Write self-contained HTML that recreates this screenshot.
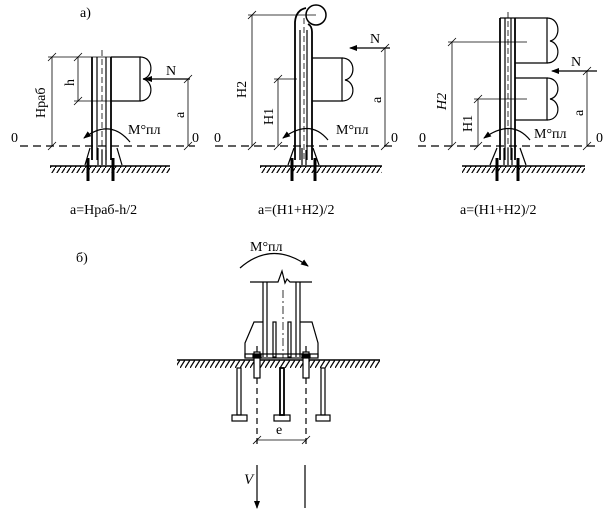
<!DOCTYPE html>
<html><head><meta charset="utf-8">
<style>
html,body{margin:0;padding:0;background:#fff;}
svg{display:block;}
text{font-family:"Liberation Serif",serif;fill:#000;}
</style></head>
<body>
<svg width="609" height="519" viewBox="0 0 609 519" xmlns="http://www.w3.org/2000/svg">
<defs>
<pattern id="h" width="5" height="8" patternUnits="userSpaceOnUse">
<line x1="0" y1="8" x2="5" y2="0" stroke="#000" stroke-width="1.2"/>
</pattern>
<marker id="ar" markerWidth="8" markerHeight="6" refX="7" refY="3" orient="auto" markerUnits="userSpaceOnUse">
<path d="M0,0 L8,3 L0,6 z" fill="#000"/>
</marker>
</defs>
<g stroke="#000" stroke-width="1.2" fill="none">

<!-- ============ Panel 1 ============ -->
<line x1="20" y1="146" x2="195" y2="146" stroke-dasharray="8,5"/>
<line x1="92" y1="57" x2="92" y2="160" stroke-width="1.8"/>
<line x1="97" y1="57" x2="97" y2="160"/>
<line x1="106" y1="57" x2="106" y2="160"/>
<line x1="111" y1="57" x2="111" y2="160" stroke-width="1.8"/>
<line x1="102" y1="50" x2="102" y2="160" stroke-dasharray="6,3" stroke-width="0.8"/>
<path d="M111,57 H140 V101 H111"/>
<path d="M140,57 C154,57 154,77 143,79 C154,81 154,101 140,101"/>
<line x1="48" y1="57" x2="140" y2="57" stroke-width="0.8"/>
<line x1="52" y1="57" x2="52" y2="146" stroke-width="0.8"/>
<line x1="48" y1="61" x2="56" y2="53" stroke-width="0.8"/>
<line x1="48" y1="150" x2="56" y2="142" stroke-width="0.8"/>
<line x1="78" y1="57" x2="78" y2="101" stroke-width="0.8"/>
<line x1="74" y1="61" x2="82" y2="53" stroke-width="0.8"/>
<line x1="74" y1="105" x2="82" y2="97" stroke-width="0.8"/>
<line x1="74" y1="101" x2="111" y2="101" stroke-width="0.8"/>
<line x1="190" y1="79" x2="145" y2="79" marker-end="url(#ar)"/>
<line x1="188" y1="79" x2="188" y2="146" stroke-width="0.8"/>
<line x1="184" y1="83" x2="192" y2="75" stroke-width="0.8"/>
<line x1="184" y1="150" x2="192" y2="142" stroke-width="0.8"/>
<path d="M130,142 Q110,118 84,138" marker-end="url(#ar)"/>
<path d="M90,148 L85,165 M117,148 L122,165"/>
<line x1="98" y1="148" x2="98" y2="165"/><line x1="102" y1="150" x2="102" y2="165"/><line x1="106" y1="150" x2="106" y2="165"/>
<line x1="50" y1="166" x2="170" y2="166" stroke-width="1.5"/>
<rect x="50" y="166" width="120" height="7" fill="url(#h)" stroke="none"/>
<line x1="88" y1="158" x2="88" y2="181" stroke-width="3"/>
<line x1="113" y1="158" x2="113" y2="181" stroke-width="3"/>

<!-- ============ Panel 2 ============ -->
<line x1="215" y1="146" x2="395" y2="146" stroke-dasharray="8,5"/>
<path d="M295,160 V22 Q296,10 306,8" stroke-width="1.8"/>
<path d="M312,160 V32 Q312,26 308,24" stroke-width="1.8"/>
<line x1="300" y1="30" x2="300" y2="160"/>
<line x1="307" y1="30" x2="307" y2="160"/>
<line x1="304" y1="18" x2="304" y2="160" stroke-dasharray="6,3" stroke-width="0.8"/>
<circle cx="316" cy="15" r="10" stroke-width="1.5"/>
<path d="M312,58 H342 V101 H312"/>
<path d="M342,58 C356,58 356,78 345,80 C356,82 356,101 342,101"/>
<line x1="248" y1="15" x2="316" y2="15" stroke-width="0.8"/>
<line x1="252" y1="15" x2="252" y2="146" stroke-width="0.8"/>
<line x1="248" y1="19" x2="256" y2="11" stroke-width="0.8"/>
<line x1="248" y1="150" x2="256" y2="142" stroke-width="0.8"/>
<line x1="274" y1="79" x2="297" y2="79" stroke-width="0.8"/>
<line x1="278" y1="79" x2="278" y2="146" stroke-width="0.8"/>
<line x1="274" y1="83" x2="282" y2="75" stroke-width="0.8"/>
<line x1="274" y1="150" x2="282" y2="142" stroke-width="0.8"/>
<line x1="390" y1="48" x2="350" y2="48" marker-end="url(#ar)"/>
<line x1="385" y1="48" x2="385" y2="146" stroke-width="0.8"/>
<line x1="381" y1="52" x2="389" y2="44" stroke-width="0.8"/>
<line x1="381" y1="150" x2="389" y2="142" stroke-width="0.8"/>
<path d="M328,140 Q310,118 283,138" marker-end="url(#ar)"/>
<path d="M294,148 L288,165 M313,148 L319,165"/>
<line x1="302" y1="148" x2="302" y2="165"/><line x1="306" y1="150" x2="306" y2="165"/>
<line x1="260" y1="166" x2="382" y2="166" stroke-width="1.5"/>
<rect x="260" y="166" width="122" height="7" fill="url(#h)" stroke="none"/>
<line x1="292" y1="158" x2="292" y2="181" stroke-width="3"/>
<line x1="315" y1="158" x2="315" y2="181" stroke-width="3"/>

<!-- ============ Panel 3 ============ -->
<line x1="418" y1="146" x2="600" y2="146" stroke-dasharray="8,5"/>
<line x1="500" y1="18" x2="500" y2="160" stroke-width="1.8"/>
<line x1="505" y1="18" x2="505" y2="160"/>
<line x1="511" y1="18" x2="511" y2="160"/>
<line x1="515" y1="18" x2="515" y2="160" stroke-width="1.8"/>
<line x1="508" y1="12" x2="508" y2="160" stroke-dasharray="6,3" stroke-width="0.8"/>
<line x1="500" y1="18" x2="515" y2="18"/>
<path d="M515,18 H547 V63 H515"/>
<path d="M547,18 C561,18 561,39 550,41 C561,43 561,63 547,63"/>
<path d="M515,78 H547 V120 H515"/>
<path d="M547,78 C561,78 561,97 550,99 C561,101 561,120 547,120"/>
<line x1="448" y1="42" x2="527" y2="42" stroke-width="0.8"/>
<line x1="452" y1="42" x2="452" y2="146" stroke-width="0.8"/>
<line x1="448" y1="46" x2="456" y2="38" stroke-width="0.8"/>
<line x1="448" y1="150" x2="456" y2="142" stroke-width="0.8"/>
<line x1="474" y1="99" x2="527" y2="99" stroke-width="0.8"/>
<line x1="478" y1="99" x2="478" y2="146" stroke-width="0.8"/>
<line x1="474" y1="103" x2="482" y2="95" stroke-width="0.8"/>
<line x1="474" y1="150" x2="482" y2="142" stroke-width="0.8"/>
<line x1="597" y1="71" x2="552" y2="71" marker-end="url(#ar)"/>
<line x1="587" y1="71" x2="587" y2="146" stroke-width="0.8"/>
<line x1="583" y1="75" x2="591" y2="67" stroke-width="0.8"/>
<line x1="583" y1="150" x2="591" y2="142" stroke-width="0.8"/>
<path d="M530,140 Q512,118 484,138" marker-end="url(#ar)"/>
<path d="M497,148 L490,165 M520,148 L526,165"/>
<line x1="504" y1="148" x2="504" y2="165"/><line x1="508" y1="148" x2="508" y2="165"/><line x1="512" y1="148" x2="512" y2="165"/>
<line x1="462" y1="166" x2="585" y2="166" stroke-width="1.5"/>
<rect x="462" y="166" width="123" height="7" fill="url(#h)" stroke="none"/>
<line x1="497" y1="158" x2="497" y2="181" stroke-width="3"/>
<line x1="518" y1="158" x2="518" y2="181" stroke-width="3"/>

<!-- ============ Panel б ============ -->
<path d="M240,268 Q272,240 308,266" marker-end="url(#ar)"/>
<path d="M250,282 H278 L282,271 L285,283 L287,279 L290,282 H312"/>
<line x1="263" y1="282" x2="263" y2="357"/><line x1="267" y1="282" x2="267" y2="357"/>
<line x1="296" y1="282" x2="296" y2="357"/><line x1="300" y1="282" x2="300" y2="357"/>
<line x1="283" y1="290" x2="283" y2="358" stroke-dasharray="8,3,2,3" stroke-width="0.8"/>
<path d="M245,357 V343 L254,322 H263 M300,322 H312 L318,343 V357"/>
<rect x="273" y="322" width="3" height="35"/>
<rect x="288" y="322" width="3" height="35"/>
<rect x="245" y="354" width="73" height="4"/>
<line x1="177" y1="360" x2="380" y2="360" stroke-width="1.5"/>
<rect x="177" y="360" width="203" height="8" fill="url(#h)" stroke="none"/>
<rect x="254" y="352" width="6" height="26" fill="#fff"/>
<rect x="303" y="352" width="6" height="26" fill="#fff"/>
<rect x="253" y="354" width="8" height="4" fill="#000"/>
<rect x="302" y="354" width="8" height="4" fill="#000"/>
<line x1="257" y1="346" x2="257" y2="352"/><line x1="306" y1="346" x2="306" y2="352"/>
<rect x="237" y="368" width="4" height="47"/>
<rect x="280" y="368" width="4" height="47" stroke-width="1.8"/>
<rect x="321" y="368" width="4" height="47"/>
<rect x="232" y="415" width="15" height="6"/>
<rect x="274" y="415" width="16" height="6"/>
<rect x="316" y="415" width="14" height="6"/>
<line x1="257" y1="378" x2="257" y2="446" stroke-dasharray="6,4"/>
<line x1="306" y1="378" x2="306" y2="446" stroke-dasharray="6,4"/>
<line x1="257" y1="440" x2="306" y2="440" stroke-width="0.8"/>
<line x1="253" y1="444" x2="261" y2="436" stroke-width="0.8"/>
<line x1="302" y1="444" x2="310" y2="436" stroke-width="0.8"/>
<line x1="257" y1="465" x2="257" y2="508" marker-end="url(#ar)"/>
<line x1="305" y1="465" x2="305" y2="508"/>
</g>

<g font-size="14">
<text x="80" y="17">а)</text>
<text x="76" y="262">б)</text>
<text x="11" y="142">0</text>
<text x="192" y="142">0</text>
<text x="214" y="142">0</text>
<text x="391" y="142">0</text>
<text x="419" y="142">0</text>
<text x="596" y="142">0</text>
<text x="166" y="75">N</text>
<text x="370" y="43">N</text>
<text x="571" y="66">N</text>
<text x="128" y="134">M°пл</text>
<text x="336" y="134">M°пл</text>
<text x="534" y="138">M°пл</text>
<text x="250" y="251">M°пл</text>
<text x="70" y="214">a=Hраб-h/2</text>
<text x="258" y="214">a=(H1+H2)/2</text>
<text x="460" y="214">a=(H1+H2)/2</text>
<text x="276" y="434">e</text>
<text x="244" y="484" font-style="italic" font-size="15">V</text>
<text transform="translate(45,118) rotate(-90)">Hраб</text>
<text transform="translate(74,86) rotate(-90)">h</text>
<text transform="translate(184,118) rotate(-90)">a</text>
<text transform="translate(246,98) rotate(-90)">H2</text>
<text transform="translate(273,125) rotate(-90)">H1</text>
<text transform="translate(381,103) rotate(-90)">a</text>
<text transform="translate(446,110) rotate(-90)" font-style="italic">H2</text>
<text transform="translate(472,132) rotate(-90)">H1</text>
<text transform="translate(583,116) rotate(-90)">a</text>
</g>
</svg>
</body></html>
